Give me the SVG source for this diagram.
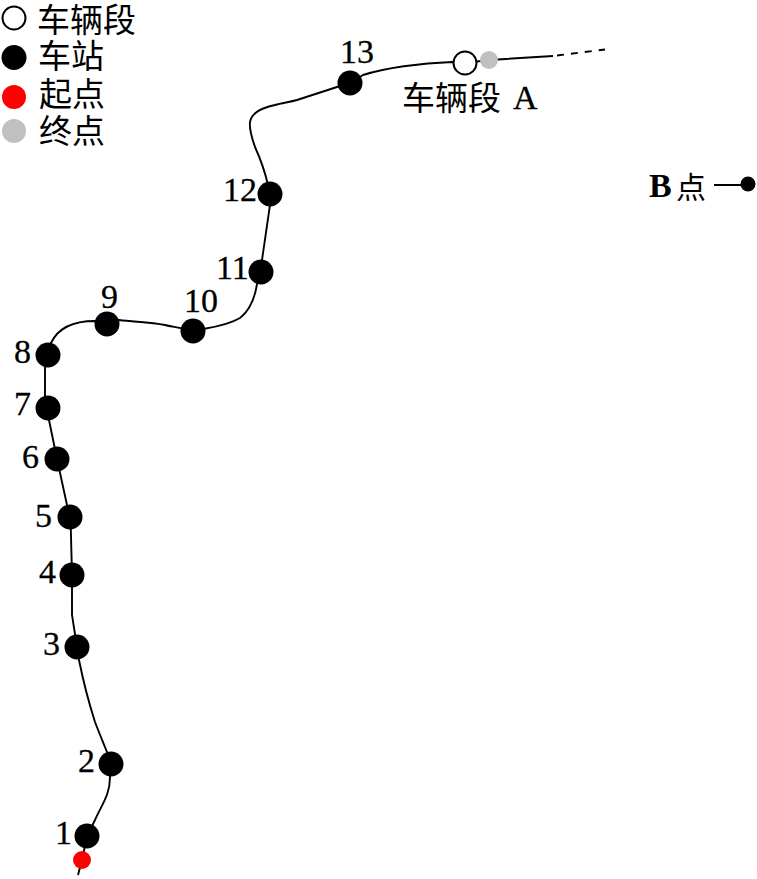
<svg xmlns="http://www.w3.org/2000/svg" width="757" height="879" viewBox="0 0 757 879">
<style>
text{font-family:"Liberation Serif","Noto Sans CJK SC",serif;font-size:33px;fill:#000}
.num{font-size:34px;stroke:#000;stroke-width:.3}
.st{fill:#000}
.line{fill:none;stroke:#000;stroke-width:1.9}
</style>
<rect width="757" height="879" fill="#fff"/>
<g id="connectors">
<path class="line" d="M78 875 L82 860 L87 836 L95 820 C102 804 110 795 110 777 L111 764 L107 752 C103 742 98 730 95 722 C88 700 83 680 79 660 L77 647 L72 615 L72 575 L70.500 517 L67 505 L57 459 L49 420 L48 408 L45 397 L45 368 L48 355 L51 343 C58 328 72 321 95 321 L107 324 L119 320 C135 322 150 322 165 325 C172 327 180 327 193 331 C205 328 225 327 240 318 C250 310 255 297 257 284 L261 272 L262 260 L270 205 L270 194 L268 185 C265 172 260 158 255 147 C252 138 249 130 250 122 C252 112 262 108 275 105 C282 103 290 102 297 100 L337 87 L350 83 L363 75 C385 68 420 63 452 62 L465 63 L489 60 L553 56"/>
<path class="line" d="M557 55.500 L605 49.500" stroke-dasharray="7 7"/>
<path class="line" d="M714 185 L748 185"/>
</g>
<g id="legend">
<circle cx="14" cy="18" r="11.500" fill="#fff" stroke="#000" stroke-width="2"/><text x="37" y="32">车辆段</text>
<circle cx="14" cy="57.500" r="12.500" class="st"/><text x="38" y="68">车站</text>
<circle cx="14" cy="97" r="12" fill="#f00"/><text x="39" y="106">起点</text>
<circle cx="14" cy="131" r="12" fill="#c0c0c0"/><text x="39" y="143">终点</text>
</g>
<g id="s1"><circle cx="87" cy="836" r="12.500" class="st"/><text class="num" x="55" y="844">1</text></g>
<g id="s2"><circle cx="111" cy="764" r="12.500" class="st"/><text class="num" x="78" y="772">2</text></g>
<g id="s3"><circle cx="77" cy="647" r="12.500" class="st"/><text class="num" x="43" y="655">3</text></g>
<g id="s4"><circle cx="72" cy="575" r="12.500" class="st"/><text class="num" x="39" y="583">4</text></g>
<g id="s5"><circle cx="70" cy="517" r="12.500" class="st"/><text class="num" x="35" y="527">5</text></g>
<g id="s6"><circle cx="57" cy="459" r="12.500" class="st"/><text class="num" x="22" y="468">6</text></g>
<g id="s7"><circle cx="48" cy="408" r="12.500" class="st"/><text class="num" x="14" y="415">7</text></g>
<g id="s8"><circle cx="48" cy="355" r="12.500" class="st"/><text class="num" x="14" y="363">8</text></g>
<g id="s9"><circle cx="107" cy="324" r="12.500" class="st"/><text class="num" x="101" y="308">9</text></g>
<g id="s10"><circle cx="193" cy="331" r="12.500" class="st"/><text class="num" x="184" y="312">10</text></g>
<g id="s11"><circle cx="261" cy="272" r="12.500" class="st"/><text class="num" x="216" y="279">11</text></g>
<g id="s12"><circle cx="270" cy="194" r="12.500" class="st"/><text class="num" x="223" y="201">12</text></g>
<g id="s13"><circle cx="350" cy="83" r="12.500" class="st"/><text class="num" x="340" y="63">13</text></g>
<g id="depot-a"><circle cx="465" cy="63" r="11.500" fill="#fff" stroke="#000" stroke-width="2"/><text x="402" y="110">车辆段</text><text class="num" x="513" y="109" font-size="33">A</text></g>
<g id="end"><circle cx="489" cy="60" r="9" fill="#c0c0c0"/></g>
<g id="start"><circle cx="82" cy="860" r="9" fill="#f00"/></g>
<g id="point-b"><circle cx="748" cy="184" r="7.500" class="st"/><text x="649" y="197" font-weight="bold" style="font-size:34px">B</text><text x="676" y="198" style="font-size:30px">点</text></g>
</svg>
